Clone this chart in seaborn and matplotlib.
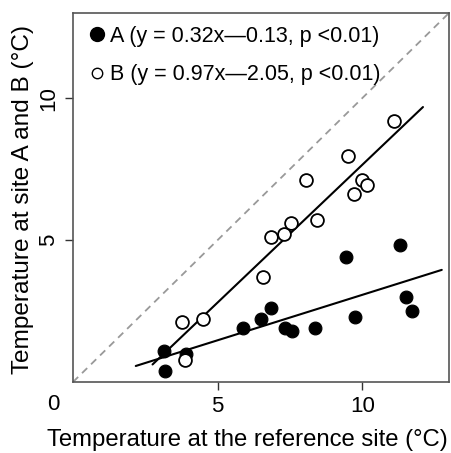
import numpy as np
import pandas as pd
import matplotlib
matplotlib.use("Agg")
import matplotlib.pyplot as plt
import seaborn as sns
from matplotlib.lines import Line2D

# --- DATA ---
a_x = [3.15, 3.17, 3.90, 5.87, 6.50, 6.84, 7.34, 7.56, 8.36, 9.45, 9.75, 11.32, 11.52, 11.71]
a_y = [1.10, 0.39, 0.99, 1.90, 2.22, 2.59, 1.90, 1.80, 1.90, 4.41, 2.30, 4.81, 3.00, 2.51]
b_x = [3.76, 4.51, 3.88, 6.56, 6.84, 7.29, 7.53, 8.44, 8.06, 9.50, 9.70, 9.99, 10.15, 11.10]
b_y = [2.10, 2.22, 0.77, 3.71, 5.12, 5.21, 5.61, 5.70, 7.11, 7.96, 6.64, 7.11, 6.94, 9.20]

# fitted lines (slope, intercept) and drawn x-range
a_fit = (0.32, -0.13)
b_fit = (0.97, -2.05)
a_line_x = [2.17, 12.75]
b_line_x = [2.75, 12.10]

a_label = "A (y = 0.32x\u20140.13, p <0.01)"
b_label = "B (y = 0.97x\u20142.05, p <0.01)"
x_ticks = [5, 10]
y_ticks = [5, 10]

sns.set_theme(style="white")
plt.rcParams['font.family'] = ['Liberation Sans', 'DejaVu Sans']
plt.rcParams['text.color'] = 'black'
plt.rcParams['axes.labelcolor'] = 'black'
plt.rcParams['xtick.color'] = 'black'
plt.rcParams['ytick.color'] = 'black'

fig = plt.figure(figsize=(4.51, 4.53), dpi=100)
ax = fig.add_axes([73 / 451, 1 - 382 / 453, 376 / 451, 369 / 453])

df_a = pd.DataFrame({'x': a_x, 'y': a_y})
df_b = pd.DataFrame({'x': b_x, 'y': b_y})

# 1:1 line
ax.plot([0, 13], [0, 13], color='#999999', ls=(0, (4, 3)), lw=1.3, zorder=1)

# regression lines
la = pd.DataFrame({'x': a_line_x})
la['y'] = a_fit[0] * la['x'] + a_fit[1]
lb = pd.DataFrame({'x': b_line_x})
lb['y'] = b_fit[0] * lb['x'] + b_fit[1]
sns.lineplot(data=la, x='x', y='y', color='black', lw=1.5, ax=ax, zorder=2)
sns.lineplot(data=lb, x='x', y='y', color='black', lw=1.5, ax=ax, zorder=2)

sns.scatterplot(data=df_a, x='x', y='y', s=85, color='black', edgecolor='black',
                linewidth=0.8, ax=ax, zorder=3, legend=False)
sns.scatterplot(data=df_b, x='x', y='y', s=85, facecolor='white', edgecolor='black',
                linewidth=1.3, ax=ax, zorder=3, legend=False)

ax.set_xlim(0, 13)
ax.set_ylim(0, 13)
ax.set_xticks(x_ticks)
ax.set_yticks(y_ticks)
ax.set_xticklabels([str(t) for t in x_ticks], fontsize=16)
ax.set_yticklabels([str(t) for t in y_ticks], fontsize=16, rotation=90, va='center')
ax.tick_params(axis='both', direction='out', length=6, width=1, color='#333333',
               bottom=True, left=True, pad=4)
for sp in ax.spines.values():
    sp.set_color('#555555')
    sp.set_linewidth(1.2)

ax.set_xlabel("Temperature at the reference site (\u00b0C)", fontsize=17.2)
ax.set_ylabel("Temperature at site A and B (\u00b0C)", fontsize=17.6)
ax.xaxis.set_label_coords((247 - 73) / 376, -(440 - 382) / 369)
ax.yaxis.set_label_coords(-(73 - 23) / 376, (382 - 200) / 369)
ax.xaxis.label.set_va('center')
ax.yaxis.label.set_va('center')

# origin label
fig.text(53 / 451, 1 - 404 / 453, "0", fontsize=16, ha='center', va='center')

# legend
handles = [
    Line2D([], [], ls='none', marker='o', ms=10, mfc='black', mec='black'),
    Line2D([], [], ls='none', marker='o', ms=7.5, mfc='white', mec='black', mew=1.0),
]
ax.legend(handles, [a_label, b_label], loc='upper left', frameon=False, fontsize=15.5,
          handletextpad=0.1, handlelength=1.0, borderaxespad=0.2, borderpad=0.4,
          labelspacing=0.8)

fig.savefig("out.png", dpi=100)
